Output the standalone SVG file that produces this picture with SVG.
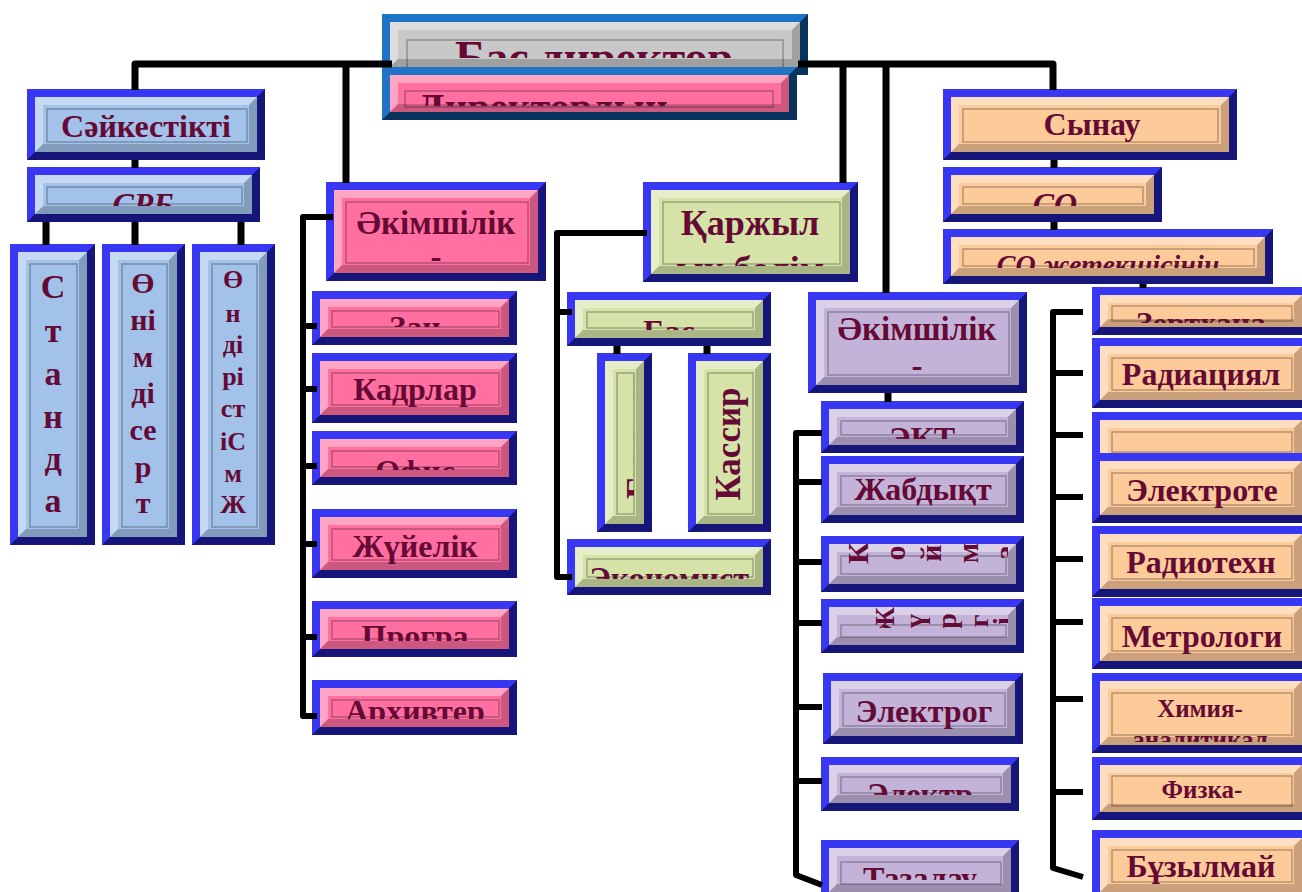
<svg xmlns="http://www.w3.org/2000/svg" width="1302" height="892" viewBox="0 0 1302 892">
<style>
.fb{fill:#3838f4}.fbd{fill:#16167a}
.fs{fill:#2074c8}.fsd{fill:#07335c}
.hl{fill:#ffffff;fill-opacity:.38}
.sh{fill:#000000;fill-opacity:.2}
.in{fill:none;stroke:#000;stroke-opacity:.28;stroke-width:1.5}
.grey{fill:#c8c8c8}.pink{fill:#ff6fa0}.lb{fill:#a2c2ea}.gr{fill:#d5e3a8}.pu{fill:#c4b3d9}.or{fill:#fdca9a}
.t{font-family:"Liberation Serif","Times New Roman",serif;font-weight:bold;fill:#650a35;text-anchor:middle;font-size:32px}
.it{font-style:italic}
.cn{fill:none;stroke:#000;stroke-width:7;stroke-linejoin:round}
.br{fill:none;stroke:#000;stroke-width:6;stroke-linejoin:round}
</style>
<defs>
<clipPath id="cA" clipPathUnits="userSpaceOnUse"><rect x="390" y="22" width="410" height="36"/></clipPath>
<clipPath id="cB" clipPathUnits="userSpaceOnUse"><rect x="390" y="75" width="399" height="31"/></clipPath>
<clipPath id="cD" clipPathUnits="userSpaceOnUse"><rect x="35" y="175" width="217" height="31"/></clipPath>
<clipPath id="cH" clipPathUnits="userSpaceOnUse"><rect x="334" y="190" width="204" height="76"/></clipPath>
<clipPath id="cI" clipPathUnits="userSpaceOnUse"><rect x="320" y="299" width="189" height="28"/></clipPath>
<clipPath id="cK" clipPathUnits="userSpaceOnUse"><rect x="320" y="439" width="189" height="31"/></clipPath>
<clipPath id="cM" clipPathUnits="userSpaceOnUse"><rect x="320" y="609" width="189" height="32"/></clipPath>
<clipPath id="cN" clipPathUnits="userSpaceOnUse"><rect x="320" y="688" width="189" height="31"/></clipPath>
<clipPath id="cO" clipPathUnits="userSpaceOnUse"><rect x="651" y="190" width="199" height="76"/></clipPath>
<clipPath id="cP" clipPathUnits="userSpaceOnUse"><rect x="575" y="300" width="188" height="30"/></clipPath>
<clipPath id="cQ" clipPathUnits="userSpaceOnUse"><rect x="605" y="372" width="29" height="143"/></clipPath>
<clipPath id="cS" clipPathUnits="userSpaceOnUse"><rect x="575" y="547" width="188" height="32"/></clipPath>
<clipPath id="cT" clipPathUnits="userSpaceOnUse"><rect x="816" y="300" width="203" height="78"/></clipPath>
<clipPath id="cU" clipPathUnits="userSpaceOnUse"><rect x="829" y="409" width="187" height="30"/></clipPath>
<clipPath id="cW" clipPathUnits="userSpaceOnUse"><rect x="829" y="544" width="179" height="40"/></clipPath>
<clipPath id="cX" clipPathUnits="userSpaceOnUse"><rect x="829" y="607" width="179" height="21"/></clipPath>
<clipPath id="cZ" clipPathUnits="userSpaceOnUse"><rect x="829" y="765" width="182" height="30"/></clipPath>
<clipPath id="cAA" clipPathUnits="userSpaceOnUse"><rect x="829" y="848" width="182" height="32"/></clipPath>
<clipPath id="cAC" clipPathUnits="userSpaceOnUse"><rect x="951" y="175" width="203" height="31"/></clipPath>
<clipPath id="cAD" clipPathUnits="userSpaceOnUse"><rect x="951" y="237" width="314" height="31"/></clipPath>
<clipPath id="cAE" clipPathUnits="userSpaceOnUse"><rect x="1100" y="295" width="202" height="28"/></clipPath>
<clipPath id="cAK" clipPathUnits="userSpaceOnUse"><rect x="1100" y="681" width="202" height="61"/></clipPath>
</defs>

<!-- top -->
<g id="bas-direktor">
<rect class="fs" x="382" y="14" width="426" height="61"/>
<path class="fsd" d="M808,14V75H382l8,-8H800V22Z"/>
<rect class="grey" x="390" y="22" width="410" height="45"/>
<path class="hl" d="M390,22H800l-8,8H398V59l-8,8Z"/>
<path class="sh" d="M800,22V67H390l8,-8H792V30Z"/>
<rect class="in" x="407" y="40" width="376" height="30"/>
<text class="t" x="594" y="73" style="font-size:46px" clip-path="url(#cA)">Бас директор</text>
</g>
<g id="direktorlyn">
<rect class="fs" x="382" y="67" width="415" height="53"/>
<path class="fsd" d="M797,67V120H382l8,-8H789V75Z"/>
<rect class="pink" x="390" y="75" width="399" height="37"/>
<path class="hl" d="M390,75H789l-8,8H398V104l-8,8Z"/>
<path class="sh" d="M789,75V112H390l8,-8H781V83Z"/>
<rect class="in" x="405" y="91" width="368" height="16"/>
<text class="t" x="417" y="121" style="font-size:40px;text-anchor:start" clip-path="url(#cB)">Директорлың</text>
</g>

<!-- left branch -->
<g id="saikestikti">
<rect class="fb" x="27" y="89" width="238" height="71"/>
<path class="fbd" d="M265,89V160H27l8,-8H257V97Z"/>
<rect class="lb" x="35" y="97" width="222" height="55"/>
<path class="hl" d="M35,97H257l-8,8H43V144l-8,8Z"/>
<path class="sh" d="M257,97V152H35l8,-8H249V105Z"/>
<rect class="in" x="47" y="109" width="200" height="33"/>
<text class="t" x="146" y="137">Сәйкестікті</text>
</g>
<g id="srb">
<rect class="fb" x="27" y="167" width="233" height="55"/>
<path class="fbd" d="M260,167V222H27l8,-8H252V175Z"/>
<rect class="lb" x="35" y="175" width="217" height="39"/>
<path class="hl" d="M35,175H252l-8,8H43V206l-8,8Z"/>
<path class="sh" d="M252,175V214H35l8,-8H244V183Z"/>
<rect class="in" x="47" y="187" width="195" height="17"/>
<text class="t it" x="143" y="215" clip-path="url(#cD)">СРБ</text>
</g>
<g id="standa">
<rect class="fb" x="10" y="244" width="85" height="301"/>
<path class="fbd" d="M95,244V545H10l8,-8H87V252Z"/>
<rect class="lb" x="18" y="252" width="69" height="285"/>
<path class="hl" d="M18,252H87l-8,8H26V529l-8,8Z"/>
<path class="sh" d="M87,252V537H18l8,-8H79V260Z"/>
<rect class="in" x="30" y="264" width="47" height="263"/>
<text class="t" style="font-size:34px"><tspan x="53" y="298">С</tspan><tspan x="53" y="342">т</tspan><tspan x="53" y="385">а</tspan><tspan x="53" y="428">н</tspan><tspan x="53" y="470">д</tspan><tspan x="53" y="512">а</tspan></text>
</g>
<g id="onimdi-sert">
<rect class="fb" x="102" y="244" width="83" height="301"/>
<path class="fbd" d="M185,244V545H102l8,-8H177V252Z"/>
<rect class="lb" x="110" y="252" width="67" height="285"/>
<path class="hl" d="M110,252H177l-8,8H118V529l-8,8Z"/>
<path class="sh" d="M177,252V537H110l8,-8H169V260Z"/>
<rect class="in" x="122" y="264" width="45" height="263"/>
<text class="t" style="font-size:30px"><tspan x="143" y="293">Ө</tspan><tspan x="143" y="330">ні</tspan><tspan x="143" y="367">м</tspan><tspan x="143" y="403">ді</tspan><tspan x="143" y="440">се</tspan><tspan x="143" y="477">р</tspan><tspan x="143" y="513">т</tspan></text>
</g>
<g id="ondiristi-smzh">
<rect class="fb" x="192" y="244" width="83" height="301"/>
<path class="fbd" d="M275,244V545H192l8,-8H267V252Z"/>
<rect class="lb" x="200" y="252" width="67" height="285"/>
<path class="hl" d="M200,252H267l-8,8H208V529l-8,8Z"/>
<path class="sh" d="M267,252V537H200l8,-8H259V260Z"/>
<rect class="in" x="212" y="264" width="45" height="263"/>
<text class="t" style="font-size:26px"><tspan x="233" y="288">Ө</tspan><tspan x="233" y="322">н</tspan><tspan x="233" y="353">ді</tspan><tspan x="233" y="385">рі</tspan><tspan x="233" y="417">ст</tspan><tspan x="233" y="450">іС</tspan><tspan x="233" y="482">м</tspan><tspan x="233" y="513">Ж</tspan></text>
</g>

<!-- pink branch -->
<g id="akimshilik-1">
<rect class="fb" x="326" y="182" width="220" height="99"/>
<path class="fbd" d="M546,182V281H326l8,-8H538V190Z"/>
<rect class="pink" x="334" y="190" width="204" height="83"/>
<path class="hl" d="M334,190H538l-8,8H342V265l-8,8Z"/>
<path class="sh" d="M538,190V273H334l8,-8H530V198Z"/>
<rect class="in" x="346" y="202" width="182" height="61"/>
<text class="t" style="font-size:33px" clip-path="url(#cH)"><tspan x="436" y="234">Әкімшілік</tspan><tspan x="436" y="268">-</tspan></text>
</g>
<g id="zan">
<rect class="fb" x="312" y="291" width="205" height="54"/>
<path class="fbd" d="M517,291V345H312l8,-8H509V299Z"/>
<rect class="pink" x="320" y="299" width="189" height="38"/>
<path class="hl" d="M320,299H509l-8,8H328V329l-8,8Z"/>
<path class="sh" d="M509,299V337H320l8,-8H501V307Z"/>
<rect class="in" x="332" y="311" width="167" height="16"/>
<text class="t" x="415" y="338" clip-path="url(#cI)">Заң</text>
</g>
<g id="kadrlar">
<rect class="fb" x="312" y="353" width="205" height="70"/>
<path class="fbd" d="M517,353V423H312l8,-8H509V361Z"/>
<rect class="pink" x="320" y="361" width="189" height="54"/>
<path class="hl" d="M320,361H509l-8,8H328V407l-8,8Z"/>
<path class="sh" d="M509,361V415H320l8,-8H501V369Z"/>
<rect class="in" x="332" y="373" width="167" height="32"/>
<text class="t" x="415" y="400">Кадрлар</text>
</g>
<g id="ofis">
<rect class="fb" x="312" y="431" width="205" height="54"/>
<path class="fbd" d="M517,431V485H312l8,-8H509V439Z"/>
<rect class="pink" x="320" y="439" width="189" height="38"/>
<path class="hl" d="M320,439H509l-8,8H328V469l-8,8Z"/>
<path class="sh" d="M509,439V477H320l8,-8H501V447Z"/>
<rect class="in" x="332" y="451" width="167" height="16"/>
<text class="t" x="415" y="482" clip-path="url(#cK)">Офис</text>
</g>
<g id="zhuielik">
<rect class="fb" x="312" y="509" width="205" height="69"/>
<path class="fbd" d="M517,509V578H312l8,-8H509V517Z"/>
<rect class="pink" x="320" y="517" width="189" height="53"/>
<path class="hl" d="M320,517H509l-8,8H328V562l-8,8Z"/>
<path class="sh" d="M509,517V570H320l8,-8H501V525Z"/>
<rect class="in" x="332" y="529" width="167" height="31"/>
<text class="t" x="415" y="557">Жүйелік</text>
</g>
<g id="progra">
<rect class="fb" x="312" y="601" width="205" height="56"/>
<path class="fbd" d="M517,601V657H312l8,-8H509V609Z"/>
<rect class="pink" x="320" y="609" width="189" height="40"/>
<path class="hl" d="M320,609H509l-8,8H328V641l-8,8Z"/>
<path class="sh" d="M509,609V649H320l8,-8H501V617Z"/>
<rect class="in" x="332" y="621" width="167" height="18"/>
<text class="t" x="415" y="647" clip-path="url(#cM)">Програ</text>
</g>
<g id="arhivter">
<rect class="fb" x="312" y="680" width="205" height="55"/>
<path class="fbd" d="M517,680V735H312l8,-8H509V688Z"/>
<rect class="pink" x="320" y="688" width="189" height="39"/>
<path class="hl" d="M320,688H509l-8,8H328V719l-8,8Z"/>
<path class="sh" d="M509,688V727H320l8,-8H501V696Z"/>
<rect class="in" x="332" y="700" width="167" height="17"/>
<text class="t" x="415" y="722" clip-path="url(#cN)">Архивтер</text>
</g>

<!-- green branch -->
<g id="karzhylyk">
<rect class="fb" x="643" y="182" width="215" height="100"/>
<path class="fbd" d="M858,182V282H643l8,-8H850V190Z"/>
<rect class="gr" x="651" y="190" width="199" height="84"/>
<path class="hl" d="M651,190H850l-8,8H659V266l-8,8Z"/>
<path class="sh" d="M850,190V274H651l8,-8H842V198Z"/>
<rect class="in" x="663" y="202" width="177" height="62"/>
<text class="t" style="font-size:36px" clip-path="url(#cO)"><tspan x="750" y="235">Қаржыл</tspan><tspan x="750" y="281">ық бөлім</tspan></text>
</g>
<g id="bas-buh">
<rect class="fb" x="567" y="292" width="204" height="54"/>
<path class="fbd" d="M771,292V346H567l8,-8H763V300Z"/>
<rect class="gr" x="575" y="300" width="188" height="38"/>
<path class="hl" d="M575,300H763l-8,8H583V330l-8,8Z"/>
<path class="sh" d="M763,300V338H575l8,-8H755V308Z"/>
<rect class="in" x="587" y="312" width="166" height="16"/>
<text class="t" x="669" y="342" clip-path="url(#cP)">Бас</text>
</g>
<g id="buhgalteriya">
<rect class="fb" x="597" y="353" width="55" height="179"/>
<path class="fbd" d="M652,353V532H597l8,-8H644V361Z"/>
<rect class="gr" x="605" y="361" width="39" height="163"/>
<path class="hl" d="M605,361H644l-8,8H613V516l-8,8Z"/>
<path class="sh" d="M644,361V524H605l8,-8H636V369Z"/>
<rect class="in" x="617" y="373" width="17" height="141"/>
<g clip-path="url(#cQ)">
<text class="t" transform="translate(651,499) rotate(-90)" style="font-size:35px;text-anchor:start">Бухгалтерия</text>
</g>
</g>
<g id="kassir">
<rect class="fb" x="688" y="353" width="83" height="179"/>
<path class="fbd" d="M771,353V532H688l8,-8H763V361Z"/>
<rect class="gr" x="696" y="361" width="67" height="163"/>
<path class="hl" d="M696,361H763l-8,8H704V516l-8,8Z"/>
<path class="sh" d="M763,361V524H696l8,-8H755V369Z"/>
<rect class="in" x="708" y="373" width="45" height="141"/>
<text class="t" transform="translate(740,444) rotate(-90)" style="font-size:35px">Кассир</text>
</g>
<g id="ekonomist">
<rect class="fb" x="567" y="539" width="204" height="56"/>
<path class="fbd" d="M771,539V595H567l8,-8H763V547Z"/>
<rect class="gr" x="575" y="547" width="188" height="40"/>
<path class="hl" d="M575,547H763l-8,8H583V579l-8,8Z"/>
<path class="sh" d="M763,547V587H575l8,-8H755V555Z"/>
<rect class="in" x="587" y="559" width="166" height="18"/>
<text class="t" x="669" y="589" clip-path="url(#cS)">Экономист</text>
</g>

<!-- purple branch -->
<g id="akimshilik-2">
<rect class="fb" x="808" y="292" width="219" height="101"/>
<path class="fbd" d="M1027,292V393H808l8,-8H1019V300Z"/>
<rect class="pu" x="816" y="300" width="203" height="85"/>
<path class="hl" d="M816,300H1019l-8,8H824V377l-8,8Z"/>
<path class="sh" d="M1019,300V385H816l8,-8H1011V308Z"/>
<rect class="in" x="828" y="312" width="181" height="63"/>
<text class="t" style="font-size:33px" clip-path="url(#cT)"><tspan x="917" y="340">Әкімшілік</tspan><tspan x="917" y="377">-</tspan></text>
</g>
<g id="ekt">
<rect class="fb" x="821" y="401" width="203" height="52"/>
<path class="fbd" d="M1024,401V453H821l8,-8H1016V409Z"/>
<rect class="pu" x="829" y="409" width="187" height="36"/>
<path class="hl" d="M829,409H1016l-8,8H837V437l-8,8Z"/>
<path class="sh" d="M1016,409V445H829l8,-8H1008V417Z"/>
<rect class="in" x="841" y="421" width="165" height="14"/>
<text class="t" x="922" y="449" clip-path="url(#cU)">ЭКТ</text>
</g>
<g id="zhabdyk">
<rect class="fb" x="821" y="456" width="203" height="67"/>
<path class="fbd" d="M1024,456V523H821l8,-8H1016V464Z"/>
<rect class="pu" x="829" y="464" width="187" height="51"/>
<path class="hl" d="M829,464H1016l-8,8H837V507l-8,8Z"/>
<path class="sh" d="M1016,464V515H829l8,-8H1008V472Z"/>
<rect class="in" x="841" y="476" width="165" height="29"/>
<text class="t" x="923" y="500">Жабдықт</text>
</g>
<g id="koima">
<rect class="fb" x="821" y="536" width="203" height="56"/>
<path class="fbd" d="M1024,536V592H821l8,-8H1016V544Z"/>
<rect class="pu" x="829" y="544" width="187" height="40"/>
<path class="hl" d="M829,544H1016l-8,8H837V576l-8,8Z"/>
<path class="sh" d="M1016,544V584H829l8,-8H1008V552Z"/>
<rect class="in" x="841" y="556" width="165" height="18"/>
<g clip-path="url(#cW)">
<text class="t" style="font-size:30px" transform="translate(868,553) rotate(-90)">К</text>
<text class="t" style="font-size:30px" transform="translate(905,553) rotate(-90)">о</text>
<text class="t" style="font-size:30px" transform="translate(941,553) rotate(-90)">й</text>
<text class="t" style="font-size:30px" transform="translate(978,553) rotate(-90)">м</text>
<text class="t" style="font-size:30px" transform="translate(1015,553) rotate(-90)">а</text>
</g>
</g>
<g id="zhurgizu">
<rect class="fb" x="821" y="599" width="203" height="54"/>
<path class="fbd" d="M1024,599V653H821l8,-8H1016V607Z"/>
<rect class="pu" x="829" y="607" width="187" height="38"/>
<path class="hl" d="M829,607H1016l-8,8H837V637l-8,8Z"/>
<path class="sh" d="M1016,607V645H829l8,-8H1008V615Z"/>
<rect class="in" x="841" y="625" width="165" height="12"/>
<g clip-path="url(#cX)">
<text class="t" style="font-size:28px" transform="translate(894,621) rotate(-90)">Ж</text>
<text class="t" style="font-size:28px" transform="translate(924,621) rotate(-90)">ү</text>
<text class="t" style="font-size:28px" transform="translate(956,621) rotate(-90)">р</text>
<text class="t" style="font-size:28px" transform="translate(988,621) rotate(-90)">г</text>
<text class="t" style="font-size:28px" transform="translate(1012,621) rotate(-90)">і</text>
</g>
</g>
<g id="elektrog">
<rect class="fb" x="823" y="673" width="200" height="71"/>
<path class="fbd" d="M1023,673V744H823l8,-8H1015V681Z"/>
<rect class="pu" x="831" y="681" width="184" height="55"/>
<path class="hl" d="M831,681H1015l-8,8H839V728l-8,8Z"/>
<path class="sh" d="M1015,681V736H831l8,-8H1007V689Z"/>
<rect class="in" x="843" y="693" width="162" height="33"/>
<text class="t" x="924" y="722">Электрог</text>
</g>
<g id="elektr">
<rect class="fb" x="821" y="757" width="198" height="54"/>
<path class="fbd" d="M1019,757V811H821l8,-8H1011V765Z"/>
<rect class="pu" x="829" y="765" width="182" height="38"/>
<path class="hl" d="M829,765H1011l-8,8H837V795l-8,8Z"/>
<path class="sh" d="M1011,765V803H829l8,-8H1003V773Z"/>
<rect class="in" x="841" y="777" width="160" height="16"/>
<text class="t" x="920" y="805" clip-path="url(#cZ)">Электр</text>
</g>
<g id="tazalau">
<rect class="fb" x="821" y="840" width="198" height="60"/>
<path class="fbd" d="M1019,840V900H821l8,-8H1011V848Z"/>
<rect class="pu" x="829" y="848" width="182" height="44"/>
<path class="hl" d="M829,848H1011l-8,8H837V884l-8,8Z"/>
<path class="sh" d="M1011,848V892H829l8,-8H1003V856Z"/>
<rect class="in" x="841" y="862" width="160" height="22"/>
<text class="t" x="920" y="889" clip-path="url(#cAA)">Тазалау</text>
</g>

<!-- orange branch -->
<g id="synau">
<rect class="fb" x="943" y="89" width="294" height="71"/>
<path class="fbd" d="M1237,89V160H943l8,-8H1229V97Z"/>
<rect class="or" x="951" y="97" width="278" height="55"/>
<path class="hl" d="M951,97H1229l-8,8H959V144l-8,8Z"/>
<path class="sh" d="M1229,97V152H951l8,-8H1221V105Z"/>
<rect class="in" x="963" y="109" width="255" height="33"/>
<text class="t" x="1092" y="135">Сынау</text>
</g>
<g id="so">
<rect class="fb" x="943" y="167" width="219" height="55"/>
<path class="fbd" d="M1162,167V222H943l8,-8H1154V175Z"/>
<rect class="or" x="951" y="175" width="203" height="39"/>
<path class="hl" d="M951,175H1154l-8,8H959V206l-8,8Z"/>
<path class="sh" d="M1154,175V214H951l8,-8H1146V183Z"/>
<rect class="in" x="963" y="187" width="180" height="17"/>
<text class="t it" x="1055" y="215" clip-path="url(#cAC)">СО</text>
</g>
<g id="so-zhetekshi">
<rect class="fb" x="943" y="229" width="330" height="55"/>
<path class="fbd" d="M1273,229V284H943l8,-8H1265V237Z"/>
<rect class="or" x="951" y="237" width="314" height="39"/>
<path class="hl" d="M951,237H1265l-8,8H959V268l-8,8Z"/>
<path class="sh" d="M1265,237V276H951l8,-8H1257V245Z"/>
<rect class="in" x="963" y="249" width="291" height="17"/>
<text class="t it" x="1108" y="274" style="font-size:28px" clip-path="url(#cAD)">СО жетекшісінің</text>
</g>
<g id="zerthana">
<rect class="fb" x="1092" y="287" width="218" height="48"/>
<path class="fbd" d="M1310,287V335H1092l8,-8H1302V295Z"/>
<rect class="or" x="1100" y="295" width="202" height="32"/>
<path class="hl" d="M1100,295H1302l-8,8H1108V319l-8,8Z"/>
<path class="sh" d="M1302,295V327H1100l8,-8H1294V303Z"/>
<rect class="in" x="1112" y="306" width="180" height="15"/>
<text class="t" x="1201" y="334" clip-path="url(#cAE)">Зертхана</text>
</g>
<g id="radiatsiyalyk">
<rect class="fb" x="1092" y="338" width="218" height="70"/>
<path class="fbd" d="M1310,338V408H1092l8,-8H1302V346Z"/>
<rect class="or" x="1100" y="346" width="202" height="54"/>
<path class="hl" d="M1100,346H1302l-8,8H1108V392l-8,8Z"/>
<path class="sh" d="M1302,346V400H1100l8,-8H1294V354Z"/>
<rect class="in" x="1112" y="358" width="180" height="32"/>
<text class="t" x="1201" y="385">Радиациял</text>
</g>
<g id="empty-lab">
<rect class="fb" x="1092" y="412" width="218" height="60"/>
<path class="fbd" d="M1310,412V472H1092l8,-8H1302V420Z"/>
<rect class="or" x="1100" y="420" width="202" height="44"/>
<path class="hl" d="M1100,420H1302l-8,8H1108V456l-8,8Z"/>
<path class="sh" d="M1302,420V464H1100l8,-8H1294V428Z"/>
<rect class="in" x="1112" y="432" width="180" height="20"/>
</g>
<g id="elektrote">
<rect class="fb" x="1092" y="453" width="218" height="70"/>
<path class="fbd" d="M1310,453V523H1092l8,-8H1302V461Z"/>
<rect class="or" x="1100" y="461" width="202" height="54"/>
<path class="hl" d="M1100,461H1302l-8,8H1108V507l-8,8Z"/>
<path class="sh" d="M1302,461V515H1100l8,-8H1294V469Z"/>
<rect class="in" x="1112" y="473" width="180" height="32"/>
<text class="t" x="1202" y="501">Электроте</text>
</g>
<g id="radiotehn">
<rect class="fb" x="1092" y="526" width="218" height="71"/>
<path class="fbd" d="M1310,526V597H1092l8,-8H1302V534Z"/>
<rect class="or" x="1100" y="534" width="202" height="55"/>
<path class="hl" d="M1100,534H1302l-8,8H1108V581l-8,8Z"/>
<path class="sh" d="M1302,534V589H1100l8,-8H1294V542Z"/>
<rect class="in" x="1112" y="546" width="180" height="33"/>
<text class="t" x="1201" y="573">Радиотехн</text>
</g>
<g id="metrologi">
<rect class="fb" x="1092" y="598" width="218" height="71"/>
<path class="fbd" d="M1310,598V669H1092l8,-8H1302V606Z"/>
<rect class="or" x="1100" y="606" width="202" height="55"/>
<path class="hl" d="M1100,606H1302l-8,8H1108V653l-8,8Z"/>
<path class="sh" d="M1302,606V661H1100l8,-8H1294V614Z"/>
<rect class="in" x="1112" y="618" width="180" height="33"/>
<text class="t" x="1202" y="647">Метрологи</text>
</g>
<g id="himiya">
<rect class="fb" x="1092" y="673" width="218" height="80"/>
<path class="fbd" d="M1310,673V753H1092l8,-8H1302V681Z"/>
<rect class="or" x="1100" y="681" width="202" height="64"/>
<path class="hl" d="M1100,681H1302l-8,8H1108V737l-8,8Z"/>
<path class="sh" d="M1302,681V745H1100l8,-8H1294V689Z"/>
<rect class="in" x="1112" y="693" width="180" height="42"/>
<text class="t" style="font-size:25px" clip-path="url(#cAK)"><tspan x="1200" y="717">Химия-</tspan><tspan x="1200" y="748">аналитикал</tspan></text>
</g>
<g id="fizka">
<rect class="fb" x="1092" y="757" width="218" height="63"/>
<path class="fbd" d="M1310,757V820H1092l8,-8H1302V765Z"/>
<rect class="or" x="1100" y="765" width="202" height="47"/>
<path class="hl" d="M1100,765H1302l-8,8H1108V804l-8,8Z"/>
<path class="sh" d="M1302,765V812H1100l8,-8H1294V773Z"/>
<rect class="in" x="1112" y="776" width="180" height="30"/>
<text class="t" x="1202" y="798" style="font-size:25px">Физка-</text>
</g>
<g id="buzylmai">
<rect class="fb" x="1092" y="830" width="218" height="70"/>
<path class="fbd" d="M1310,830V900H1092l8,-8H1302V838Z"/>
<rect class="or" x="1100" y="838" width="202" height="54"/>
<path class="hl" d="M1100,838H1302l-8,8H1108V884l-8,8Z"/>
<path class="sh" d="M1302,838V892H1100l8,-8H1294V846Z"/>
<rect class="in" x="1112" y="850" width="180" height="32"/>
<text class="t" x="1201" y="877">Бұзылмай</text>
</g>

<g id="connectors">
<path class="cn" d="M392,64H135V90"/>
<path class="cn" d="M798,64H1053V90"/>
<path class="cn" d="M346,64V183"/>
<path class="cn" d="M843,64V183"/>
<path class="cn" d="M886,64V293"/>
<path class="cn" d="M135,160V168"/>
<path class="cn" d="M46,222V245M135,222V245M241,222V245"/>
<path class="br" d="M333,217H303V716H317M303,326H317M303,389H317M303,466H317M303,544H317M303,637H317"/>
<path class="br" d="M647,233H557V577H572M557,312H572"/>
<path class="cn" d="M617,346V354M707,346V354"/>
<path class="cn" d="M888,393V402"/>
<path class="br" d="M822,433H796V875L822,885M796,482H822M796,562H822M796,623H822M796,707H822M796,781H822"/>
<path class="cn" d="M1054,160V168M1054,222V230M1143,284V288"/>
<path class="br" d="M1083,312H1053V868L1083,877M1053,373H1083M1053,435H1083M1053,497H1083M1053,559H1083M1053,622H1083M1053,699H1083M1053,792H1083"/>
</g>
</svg>
